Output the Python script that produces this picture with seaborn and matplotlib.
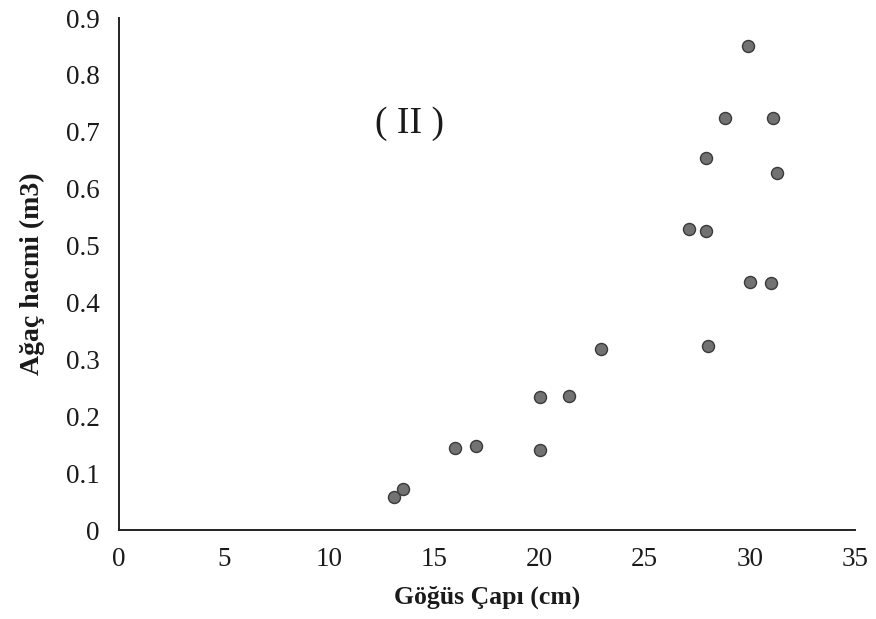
import matplotlib
matplotlib.use("Agg")
import matplotlib.pyplot as plt
import seaborn as sns
import pandas as pd

diameter_cm = [13.1, 13.5, 16.0, 17.0, 20.0, 20.0, 21.4, 22.9, 27.1, 27.9, 28.0, 27.9,
               28.8, 29.9, 31.1, 31.3, 30.0, 31.0]
volume_m3 = [0.058, 0.072, 0.144, 0.148, 0.233, 0.141, 0.236, 0.318, 0.529, 0.525, 0.323,
             0.654, 0.724, 0.850, 0.724, 0.627, 0.436, 0.434]
x_ticks = [0, 5, 10, 15, 20, 25, 30, 35]
y_ticks = [0, 0.1, 0.2, 0.3, 0.4, 0.5, 0.6, 0.7, 0.8, 0.9]
y_tick_labels = ["0", "0.1", "0.2", "0.3", "0.4", "0.5", "0.6", "0.7", "0.8", "0.9"]

df = pd.DataFrame({"x": diameter_cm, "y": volume_m3})

sns.set_theme(style="white")
plt.rcParams["font.family"] = ["Liberation Serif", "DejaVu Serif"]

fig = plt.figure(figsize=(8.76, 6.19), dpi=100)
ax = fig.add_axes([119 / 876, (619 - 530) / 619, (855 - 119) / 876, (530 - 18) / 619])

sns.scatterplot(data=df, x="x", y="y", ax=ax, s=75, color="#727272",
                edgecolor="#3a3a3a", linewidth=1.0, zorder=3)

ax.set_xlim(0, 35)
ax.set_ylim(0, 0.9)
ax.set_xticks(x_ticks)
ax.set_xticklabels([str(t) for t in x_ticks])
ax.set_yticks(y_ticks)
ax.set_yticklabels(y_tick_labels)
ax.tick_params(axis="both", length=0, labelsize=19.5, colors="#1a1a1a")
ax.tick_params(axis="x", pad=12)
ax.tick_params(axis="y", pad=14)

for side in ["top", "right"]:
    ax.spines[side].set_visible(False)
for side in ["left", "bottom"]:
    ax.spines[side].set_color("#222222")
    ax.spines[side].set_linewidth(1.4)

ax.set_xlabel("Göğüs Çapı (cm)", fontsize=18.5, fontweight="bold", labelpad=10, color="#1a1a1a")
ax.set_ylabel("Ağaç hacmi (m3)", fontsize=20, fontweight="bold", labelpad=15, color="#1a1a1a")

ax.text(13.8, 0.715, "( II )", fontsize=27, ha="center", va="center", color="#1a1a1a")

fig.savefig("out.png", dpi=100)
